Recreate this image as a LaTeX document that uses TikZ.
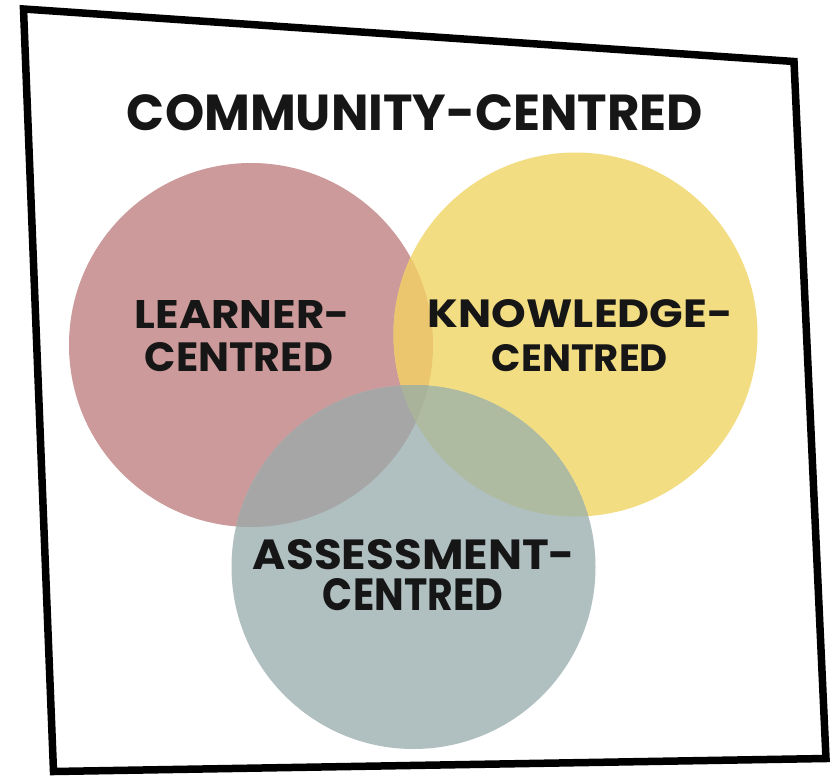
\documentclass[tikz,border=0pt]{standalone}
\usepackage{fontspec}
\setmainfont{Poppins}
\usepackage{graphicx}
\definecolor{redc}{HTML}{CC9A9A}
\definecolor{yelc}{HTML}{F3DD82}
\definecolor{bluc}{HTML}{B0BFC0}
\definecolor{rycol}{HTML}{EBC66E}
\definecolor{rbcol}{HTML}{A6A6A6}
\definecolor{ybcol}{HTML}{AEBBA0}
\definecolor{rybcol}{HTML}{A9B39A}
\definecolor{ink}{HTML}{161616}
\tikzset{
  lbl/.style={inner sep=0pt, text=ink, font=\bfseries},
  frame/.style={draw=black, line width=7.5pt, line join=miter}
}
% fixed-size label line: width, cap height, text
\newcommand{\fitline}[3]{\resizebox{#1pt}{#2pt}{#3}}
\begin{document}
\begin{tikzpicture}[x=1pt,y=-1pt]
\useasboundingbox (0,0) rectangle (838,776);
\fill[white] (0,0) rectangle (838,776);

% outer frame
\coordinate (tl) at (23.5,9);
\coordinate (tr) at (794,61.5);
\coordinate (br) at (826,758.5);
\coordinate (bl) at (53.5,771.5);
\draw[frame] (tl) -- (tr) -- (br) -- (bl) -- cycle;

% circles
\def\R{182}
\coordinate (cl) at (251,345);
\coordinate (ck) at (575.5,334.5);
\coordinate (ca) at (413.5,567);
\fill[redc] (cl) circle (\R);
\fill[yelc] (ck) circle (\R);
\fill[bluc] (ca) circle (\R);
\begin{scope}
  \clip (cl) circle (\R);
  \fill[rycol] (ck) circle (\R);
  \fill[rbcol] (ca) circle (\R);
  \clip (ck) circle (\R);
  \fill[rybcol] (ca) circle (\R);
\end{scope}
\begin{scope}
  \clip (ck) circle (\R);
  \clip (ca) circle (\R);
  \path (cl) circle (\R);
  \fill[ybcol, even odd rule] (ca) circle (\R) (cl) circle (\R);
\end{scope}

% labels
\node[lbl] (title) at (415,112.5) {\fitline{576}{36}{COMMUNITY-CENTRED}};
\node[lbl] (l1) at (242.5,314) {\fitline{215}{28}{LEARNER-}};
\node[lbl] (l2) at (239,357.5) {\fitline{188}{29}{CENTRED}};
\node[lbl] (k1) at (580.5,314) {\fitline{305}{28}{KNOWLEDGE-}};
\node[lbl] (k2) at (580,358.5) {\fitline{176}{27}{CENTRED}};
\node[lbl] (a1) at (414,555) {\fitline{322}{30}{ASSESSMENT-}};
\node[lbl] (a2) at (413,595) {\fitline{180}{32}{CENTRED}};
\end{tikzpicture}
\end{document}
